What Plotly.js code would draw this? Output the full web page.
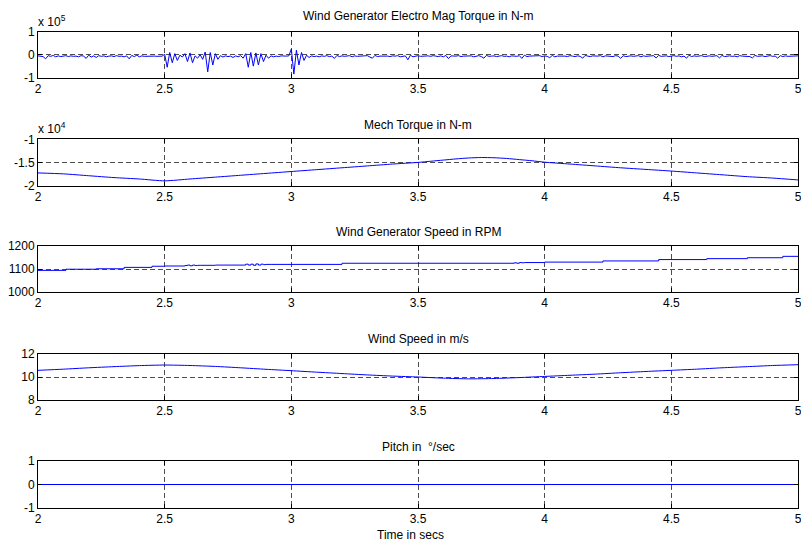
<!DOCTYPE html>
<html>
<head>
<meta charset="utf-8">
<script src="https://cdn.plot.ly/plotly-3.0.1.min.js"></script>
<style>
html,body{margin:0;padding:0;background:#fff;}
#chart{width:801px;height:544px;}
</style>
</head>
<body>
<div id="chart"></div>
<script>
// ---------- DATA ----------
// Titles
const titles = [
  "Wind Generator Electro Mag Torque in N-m",
  "Mech Torque in N-m",
  "Wind Generator Speed in RPM",
  "Wind Speed in m/s",
  "Pitch in  \u00B0/sec"
];
const xLabel = "Time in secs";

// Electromagnetic torque (units of 1e5 N-m), sampled every 0.01 s from t = 2.00
const emTorqueStart = 2.0;
const emTorqueStep = 0.01;
const emTorque = [
  -0.05,-0.06,-0.08,-0.18,-0.04,-0.07,-0.03,-0.09,-0.05,-0.08,
  -0.06,-0.04,-0.08,-0.05,-0.07,-0.06,-0.09,-0.04,-0.06,-0.16,
  -0.02,-0.10,-0.05,-0.12,-0.04,-0.07,-0.05,-0.09,-0.06,-0.05,
  -0.08,-0.04,-0.07,-0.06,-0.09,-0.05,-0.18,-0.03,-0.08,-0.02,
  -0.09,-0.05,-0.07,-0.06,-0.08,-0.05,-0.06,-0.07,-0.05,-0.06,
   0.02,-0.55, 0.10,-0.35, 0.05,-0.25,-0.02,-0.10, 0.05,-0.30,
   0.08,-0.35,-0.05,-0.15, 0.00,-0.20, 0.12,-0.75, 0.10,-0.45,
   0.05,-0.20,-0.04,-0.10,-0.05,-0.08,-0.06,-0.12,-0.05,-0.09,
  -0.04,-0.15, 0.05,-0.55, 0.10,-0.50, 0.08,-0.45, 0.05,-0.30,
  -0.02,-0.15,-0.05,-0.09,-0.06,-0.08,-0.05,-0.07,-0.06,-0.05,
   0.25,-0.85, 0.20,-0.45, 0.10,-0.25,-0.02,-0.12,-0.05,-0.08,
  -0.06,-0.09,-0.05,-0.07,-0.04,-0.08,-0.06,-0.16,-0.03,-0.08,
  -0.05,-0.07,-0.06,-0.04,-0.09,-0.05,-0.07,-0.06,-0.08,-0.05,
  -0.04,-0.10,-0.15,-0.03,-0.08,-0.06,-0.05,-0.07,-0.06,-0.08,
  -0.05,-0.06,-0.04,-0.09,-0.07,-0.05,-0.22,-0.02,-0.09,-0.06,
  -0.04,-0.07,-0.06,-0.08,-0.05,-0.07,-0.04,-0.06,-0.08,-0.05,
  -0.09,-0.03,-0.17,-0.05,-0.07,-0.06,-0.04,-0.08,-0.06,-0.05,
  -0.07,-0.05,-0.09,-0.06,-0.04,-0.08,-0.15,-0.03,-0.07,-0.06,
  -0.05,-0.08,-0.06,-0.04,-0.07,-0.06,-0.09,-0.05,-0.06,-0.07,
  -0.04,-0.16,-0.02,-0.08,-0.06,-0.05,-0.07,-0.06,-0.04,-0.08,
  -0.05,-0.07,-0.13,-0.03,-0.09,-0.06,-0.05,-0.07,-0.06,-0.08,
  -0.04,-0.06,-0.08,-0.05,-0.07,-0.15,-0.03,-0.06,-0.08,-0.05,
  -0.07,-0.06,-0.04,-0.09,-0.05,-0.07,-0.06,-0.08,-0.04,-0.06,
  -0.16,-0.04,-0.08,-0.06,-0.05,-0.07,-0.06,-0.04,-0.09,-0.05,
  -0.07,-0.06,-0.08,-0.04,-0.14,-0.03,-0.07,-0.06,-0.05,-0.08,
  -0.06,-0.04,-0.07,-0.05,-0.09,-0.06,-0.15,-0.02,-0.08,-0.05,
  -0.07,-0.06,-0.04,-0.08,-0.06,-0.05,-0.07,-0.06,-0.04,-0.14,
  -0.03,-0.08,-0.06,-0.05,-0.07,-0.06,-0.09,-0.04,-0.06,-0.07,
  -0.05,-0.08,-0.14,-0.03,-0.07,-0.06,-0.05,-0.08,-0.06,-0.04,
  -0.07,-0.06,-0.15,-0.04,-0.08,-0.05,-0.07,-0.06,-0.04,-0.06,
  -0.05
];

// Mechanical torque (units of 1e4 N-m)
const mechT = [2.0,2.1,2.2,2.3,2.4,2.5,2.6,2.7,2.8,2.9,3.0,3.1,3.2,3.3,3.4,3.5,3.55,3.6,3.65,3.7,3.75,3.8,3.85,3.9,3.95,4.0,4.1,4.2,4.3,4.4,4.5,4.6,4.7,4.8,4.9,5.0];
const mechTorque = [-1.72,-1.74,-1.78,-1.82,-1.85,-1.89,-1.85,-1.81,-1.77,-1.73,-1.69,-1.65,-1.61,-1.57,-1.53,-1.495,-1.47,-1.445,-1.42,-1.40,-1.39,-1.395,-1.41,-1.435,-1.46,-1.49,-1.53,-1.57,-1.61,-1.645,-1.68,-1.72,-1.76,-1.80,-1.83,-1.87];

// Generator speed (RPM)
const speedT = [2.00,2.11,2.23,2.34,2.45,2.50,2.58,2.59,2.60,2.61,2.62,2.63,2.64,2.70,2.82,2.83,2.84,2.85,2.86,2.87,2.88,2.89,2.90,2.92,3.20,3.88,3.89,3.90,3.91,3.92,4.00,4.23,4.45,4.64,4.80,4.94,5.00];
const speedRPM = [1094,1099,1101,1107,1112,1113,1115,1117,1114,1117,1115,1116,1116,1117,1121,1117,1121,1116,1122,1117,1121,1119,1120,1120,1125,1127,1125,1128,1127,1128,1130,1135,1141,1145,1149,1155,1156];

// Wind speed (m/s)
const windT = [2.0,2.1,2.2,2.3,2.4,2.5,2.6,2.7,2.8,2.9,3.0,3.1,3.2,3.3,3.4,3.5,3.6,3.7,3.8,3.9,4.0,4.1,4.2,4.3,4.4,4.5,4.6,4.7,4.8,4.9,5.0];
const windSpeed = [10.58,10.68,10.80,10.90,10.99,11.04,11.00,10.92,10.80,10.67,10.55,10.42,10.30,10.18,10.08,10.00,9.90,9.84,9.87,9.95,10.05,10.15,10.25,10.37,10.48,10.58,10.68,10.80,10.90,11.00,11.07];

// Pitch rate
const pitchT = [2.0, 5.0];
const pitchRate = [0, 0];

// Tick labels
const xTickVals = [2, 2.5, 3, 3.5, 4, 4.5, 5];
const xTickText = ["2", "2.5", "3", "3.5", "4", "4.5", "5"];
const yTickVals = [[-1,0,1],[-2,-1.5,-1],[1000,1100,1200],[8,10,12],[-1,0,1]];
const yTickText = [["-1","0","1"],["-2","-1.5","-1"],["1000","1100","1200"],["8","10","12"],["-1","0","1"]];
const yRanges = [[-1,1],[-2,-1],[1000,1200],[8,12],[-1,1]];
const exponentLabels = ["x 10<sup>5</sup>", "x 10<sup>4</sup>", "", "", ""];

// ---------- LAYOUT ----------
const H = 544;
// pixel tops/bottoms of plot areas
const boxes = [[32,77.5],[139.3,186],[246,292],[354,400],[461,508]];
const titleY = [16.5, 124.5, 232, 339, 447];
const FONT = "Liberation Sans, Arial, Helvetica, sans-serif";
const FS = 12;

const line = {color: "#0000ff", width: 1};
const traces = [
  {x0: emTorqueStart, dx: emTorqueStep, y: emTorque, xaxis: "x", yaxis: "y", type: "scatter", mode: "lines", line: line},
  {x: mechT, y: mechTorque, xaxis: "x2", yaxis: "y2", type: "scatter", mode: "lines", line: Object.assign({shape: "spline", smoothing: 0.6}, line)},
  {x: speedT, y: speedRPM, xaxis: "x3", yaxis: "y3", type: "scatter", mode: "lines", line: Object.assign({shape: "hv"}, line)},
  {x: windT, y: windSpeed, xaxis: "x4", yaxis: "y4", type: "scatter", mode: "lines", line: Object.assign({shape: "spline", smoothing: 0.6}, line)},
  {x: pitchT, y: pitchRate, xaxis: "x5", yaxis: "y5", type: "scatter", mode: "lines", line: line}
];

const layout = {
  width: 801, height: 544,
  margin: {l: 38, r: 3, t: 0, b: 0},
  paper_bgcolor: "#ffffff",
  plot_bgcolor: "#ffffff",
  showlegend: false,
  font: {family: FONT, size: FS, color: "#000"},
  annotations: []
};

for (let i = 0; i < 5; i++) {
  const sfx = i === 0 ? "" : String(i + 1);
  const [top, bot] = boxes[i];
  layout["xaxis" + sfx] = {
    domain: [0, 1], anchor: "y" + sfx, range: [2, 5],
    tickmode: "array", tickvals: xTickVals, ticktext: xTickText,
    ticks: "inside", ticklen: 4, tickcolor: "#000",
    showline: true, linecolor: "#000", linewidth: 1, mirror: "allticks",
    showgrid: true, gridcolor: "#222", gridwidth: 0.8, griddash: "5px,3px",
    zeroline: false, tickfont: {family: FONT, size: FS, color: "#000"},
    ticklabeloverflow: "allow", automargin: false,
    fixedrange: true
  };
  layout["yaxis" + sfx] = {
    domain: [1 - bot / H, 1 - top / H], anchor: "x" + sfx, range: yRanges[i],
    tickmode: "array", tickvals: yTickVals[i], ticktext: yTickText[i],
    ticks: "inside", ticklen: 4, tickcolor: "#000",
    showline: true, linecolor: "#000", linewidth: 1, mirror: "allticks",
    showgrid: true, gridcolor: "#222", gridwidth: 0.8, griddash: "5px,3px",
    zeroline: false, tickfont: {family: FONT, size: FS, color: "#000"},
    ticklabeloverflow: "allow", automargin: false,
    fixedrange: true
  };
  layout.annotations.push({
    text: titles[i], xref: "paper", yref: "paper", x: 0.5, y: 1 - titleY[i] / H,
    xanchor: "center", yanchor: "middle", showarrow: false,
    font: {family: FONT, size: FS, color: "#000"}
  });
  if (exponentLabels[i]) {
    layout.annotations.push({
      text: exponentLabels[i], xref: "paper", yref: "paper", x: -0.002, y: 1 - (top - 11) / H,
      xanchor: "left", yanchor: "middle", showarrow: false,
      font: {family: FONT, size: FS, color: "#000"}
    });
  }
}
layout.annotations.push({
  text: xLabel, xref: "paper", yref: "paper", x: 0.49, y: 1 - 535 / H,
  xanchor: "center", yanchor: "middle", showarrow: false,
  font: {family: FONT, size: FS, color: "#000"}
});

Plotly.newPlot("chart", traces, layout, {staticPlot: true, displayModeBar: false});
</script>
</body>
</html>
